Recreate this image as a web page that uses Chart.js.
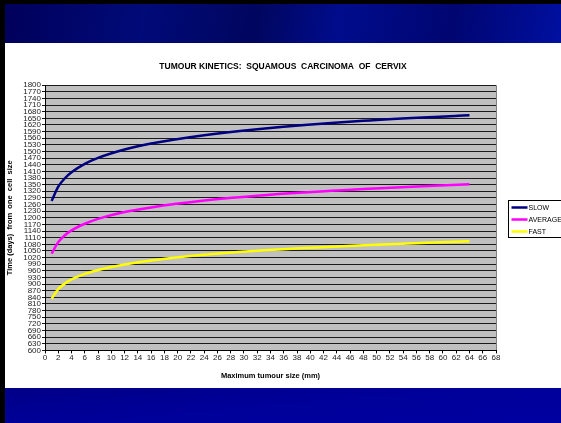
<!DOCTYPE html>
<html>
<head>
<meta charset="utf-8">
<script src="https://cdn.jsdelivr.net/npm/chart.js@4"></script>
<style>
  html, body { margin: 0; padding: 0; }
  body { width: 561px; height: 423px; position: relative; overflow: hidden; background: #000; }
  #topband { position: absolute; left: 5px; top: 4px; width: 556px; height: 39px;
    background: linear-gradient(100deg, #00005a 0%, #000a78 25%, #00065e 45%, #000c8c 60%, #000570 80%, #0010a0 100%); }
  #white { position: absolute; left: 5px; top: 43px; width: 556px; height: 345px; background: #fff; }
  #botband { position: absolute; left: 5px; top: 388px; width: 556px; height: 35px;
    background: linear-gradient(175deg, #000088 0%, #00009a 50%, #0000a0 100%); }
  #wrap { position: absolute; left: 5px; top: 43px; width: 556px; height: 345px; }
</style>
</head>
<body>
<div id="topband"></div>
<div id="white"></div>
<div id="botband"></div>
<div id="wrap"><canvas id="chart" width="556" height="345"></canvas></div>
<script>
// values
const sizes = [1, 2, 3, 4, 6, 8, 12, 16, 24, 32, 48, 64];
const slow = [1276, 1341, 1379, 1406, 1444, 1471, 1509, 1536, 1574, 1601, 1639, 1664];
const average = [1038, 1090, 1121, 1143, 1173, 1195, 1226, 1247, 1278, 1300, 1330, 1352];
const fast = [834, 877, 903, 921, 946, 964, 989, 1007, 1033, 1051, 1076, 1094];

const seriesNames = ['SLOW', 'AVERAGE', 'FAST'];
const seriesColors = ['#000080', '#ff00ff', '#ffff00'];

const toPoints = vals => sizes.map((x, i) => ({ x: x, y: vals[i] }));

// grey plot area
const plotBg = {
  id: 'plotBg',
  beforeDraw(chart) {
    const { ctx, chartArea: a } = chart;
    ctx.save();
    ctx.fillStyle = '#c0c0c0';
    ctx.fillRect(a.left, a.top, a.right - a.left, a.bottom - a.top);
    ctx.strokeStyle = '#808080';
    ctx.lineWidth = 1;
    ctx.beginPath();
    ctx.moveTo(a.right + 0.5, a.top);
    ctx.lineTo(a.right + 0.5, a.bottom);
    ctx.stroke();
    ctx.restore();
  }
};

// boxed legend at right, like the Excel one
const boxLegend = {
  id: 'boxLegend',
  afterDraw(chart) {
    const ctx = chart.ctx;
    const x0 = 503.5, y0 = 157.5, w = 60, h = 37;
    ctx.save();
    ctx.fillStyle = '#fff';
    ctx.fillRect(x0, y0, w, h);
    ctx.strokeStyle = '#000';
    ctx.lineWidth = 1;
    ctx.strokeRect(x0, y0, w, h);
    ctx.font = '7px "Liberation Sans", Arial, sans-serif';
    ctx.textBaseline = 'middle';
    chart.data.datasets.forEach((ds, i) => {
      const y = y0 + 7 + i * 12;
      ctx.strokeStyle = ds.borderColor;
      ctx.lineWidth = 2.5;
      ctx.beginPath();
      ctx.moveTo(x0 + 3, y);
      ctx.lineTo(x0 + 19, y);
      ctx.stroke();
      ctx.fillStyle = '#000';
      ctx.fillText(ds.label, x0 + 20, y + 0.5);
    });
    ctx.restore();
  }
};

const font = '"Liberation Sans", Arial, sans-serif';

new Chart(document.getElementById('chart'), {
  type: 'line',
  data: {
    datasets: [slow, average, fast].map((vals, i) => ({
      label: seriesNames[i],
      data: toPoints(vals),
      borderColor: seriesColors[i],
      backgroundColor: seriesColors[i],
      borderWidth: 2.5,
      pointRadius: 0,
      cubicInterpolationMode: 'monotone',
      fill: false
    }))
  },
  options: {
    responsive: false,
    animation: false,
    layout: { padding: { left: 0, right: 0, top: 1, bottom: 8 } },
    plugins: {
      legend: { display: false },
      tooltip: { enabled: false },
      title: {
        display: true,
        text: 'TUMOUR KINETICS:  SQUAMOUS  CARCINOMA  OF  CERVIX',
        color: '#000',
        font: { family: font, size: 8.5, weight: 'bold' },
        padding: { top: 18, bottom: 13 }
      }
    },
    scales: {
      x: {
        type: 'linear',
        min: 0,
        max: 68,
        ticks: { stepSize: 2, color: '#222', font: { family: font, size: 8 }, padding: 0, maxRotation: 0, autoSkip: false },
        grid: { display: true, drawOnChartArea: false, drawTicks: true, tickLength: 3, color: '#000' },
        border: { color: '#000' },
        title: {
          display: true,
          text: 'Maximum tumour size (mm)',
          color: '#000',
          font: { family: font, size: 7.5, weight: 'bold' },
          padding: { top: 8, bottom: 0 }
        }
      },
      y: {
        min: 600,
        max: 1800,
        ticks: {
          stepSize: 30, color: '#222', font: { family: font, size: 8, lineHeight: 0.9 }, padding: 1, autoSkip: false,
          callback: v => String(v)
        },
        grid: { color: '#1a1a1a', lineWidth: 1, tickLength: 3 },
        border: { color: '#000' },
        title: {
          display: true,
          text: 'Time (days)  from  one  cell  size',
          color: '#000',
          font: { family: font, size: 7.5, weight: 'bold' },
          padding: { top: 0, bottom: 2 }
        },
        afterFit(scale) { scale.width = 40; }
      },
      // empty axis that only reserves room for the legend box
      spacer: {
        type: 'linear',
        position: 'right',
        display: true,
        ticks: { display: false },
        grid: { display: false, drawOnChartArea: false },
        border: { display: false },
        afterFit(scale) { scale.width = 65; }
      }
    }
  },
  plugins: [plotBg, boxLegend]
});
</script>
</body>
</html>
